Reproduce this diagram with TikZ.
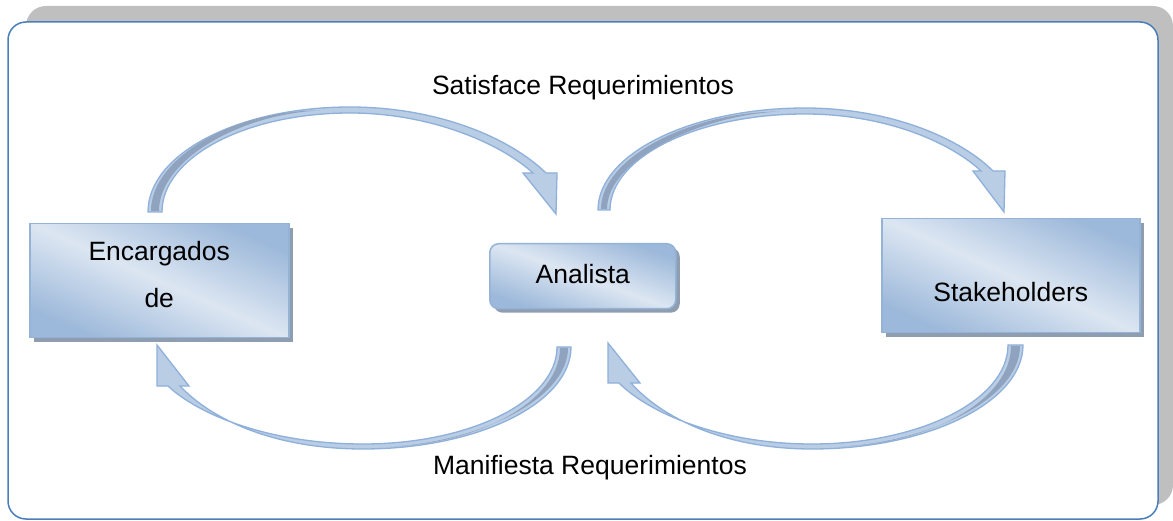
\documentclass[tikz,border=0pt]{standalone}
\usepackage{fontspec}
\setmainfont{Liberation Sans}
\definecolor{framec}{RGB}{74,126,187}
\definecolor{framesh}{RGB}{191,191,191}
\definecolor{boxdk}{RGB}{149,179,215}
\definecolor{boxlt}{RGB}{220,230,242}
\definecolor{boxsh}{RGB}{143,157,177}
\definecolor{arrfill}{RGB}{185,205,229}
\definecolor{arrline}{RGB}{142,176,218}
\definecolor{arrdark}{RGB}{143,163,191}
\tikzset{
  boxstyle/.style={draw=boxdk, line width=1.5pt, inner sep=0pt,
    preaction={fill=boxsh, transform canvas={xshift=4pt, yshift=-4pt}},
    top color=boxdk!90!boxlt, bottom color=boxdk!90!boxlt, middle color=boxlt, shading angle=-24},
  lbl/.style={inner sep=0pt, font=\fontsize{26.5pt}{47pt}\selectfont, text=black, align=center},
  blockarrow/.style={fill=arrfill, draw=arrline, line width=1.3pt, line join=miter},
  arrowband/.style={fill=arrdark}
}
\begin{document}
\begin{tikzpicture}[x=1pt, y=-1pt]
\useasboundingbox (0,0) rectangle (1173,521);
% frame
\fill[framesh, rounded corners=20pt] (26,6) rectangle (1173,505);
\draw[framec, fill=white, line width=1.5pt, rounded corners=18pt] (8,22) rectangle (1158,519);

% boxes
\node[boxstyle, anchor=north west, minimum width=259pt, minimum height=114pt] (enc) at (29,223) {};
\node[boxstyle, shading angle=-20, rounded corners=9pt, anchor=north west, minimum width=186pt, minimum height=65pt] (ana) at (489,243) {};
\node[boxstyle, anchor=north west, minimum width=258pt, minimum height=114pt] (stk) at (881,218) {};

\node[lbl] (enct) at ([yshift=6.5pt]enc.center) {Encargados\\de};
\node[lbl] (anat) at ([yshift=2.5pt]ana.center) {Analista};
\node[lbl] (stkt) at ([yshift=-16pt]stk.center) {Stakeholders};

% labels
\node[lbl] (sat) at (583,88) {Satisface Requerimientos};
\node[lbl] (man) at (590,468) {Manifiesta Requerimientos};

% arrow 1: Encargados -> Analista (top left)
\draw[blockarrow] (148,212) .. controls (148,154) and (238,107) .. (350,107)
  .. controls (438,107) and (510,138) .. (546,173) -- (557,173) -- (556,214) -- (523,173) -- (533,173)
  .. controls (500,143) and (430,113) .. (350,113)
  .. controls (246,113) and (162,157) .. (162,212) -- cycle;
\fill[arrowband] (151,211) .. controls (151,157) and (236,110) .. (320,110.5)
  .. controls (240,114) and (159,160) .. (159,211) -- cycle;

% arrow 2: Analista -> Stakeholders (top right)
\draw[blockarrow] (598,210) .. controls (598,154) and (691,108) .. (805,108)
  .. controls (890,108) and (960,138) .. (993,171) -- (1005,171) -- (1004,212) -- (973,171) -- (981,171)
  .. controls (950,142) and (885,114) .. (805,114)
  .. controls (697,114) and (610,157) .. (610,210) -- cycle;
\fill[arrowband] (601,209) .. controls (601,158) and (690,112) .. (780,111.5)
  .. controls (700,115) and (607,160) .. (607,209) -- cycle;

% arrow 3: Analista -> Encargados (bottom left)
\draw[blockarrow] (571,347) .. controls (571,403) and (478,449) .. (363,449)
  .. controls (275,449) and (212,420) .. (180,386) -- (189,386) -- (157,345) -- (157,386) -- (168,386)
  .. controls (200,416) and (272,444) .. (363,444)
  .. controls (470,444) and (557,401) .. (557,347) -- cycle;
\fill[arrowband] (560,348) .. controls (560,400) and (480,444) .. (390,446.5)
  .. controls (475,443) and (568,400) .. (568,348) -- cycle;

% arrow 4: Stakeholders -> Analista (bottom right)
\draw[blockarrow] (1023,345) .. controls (1023,402) and (928,449) .. (812,449)
  .. controls (725,449) and (662,418) .. (631,383) -- (640,383) -- (608,343) -- (608,383) -- (619,383)
  .. controls (650,414) and (722,444) .. (812,444)
  .. controls (920,444) and (1008,400) .. (1008,345) -- cycle;
\fill[arrowband] (1011,346) .. controls (1011,400) and (930,444) .. (840,446.5)
  .. controls (925,443) and (1020,400) .. (1020,346) -- cycle;
\end{tikzpicture}
\end{document}
